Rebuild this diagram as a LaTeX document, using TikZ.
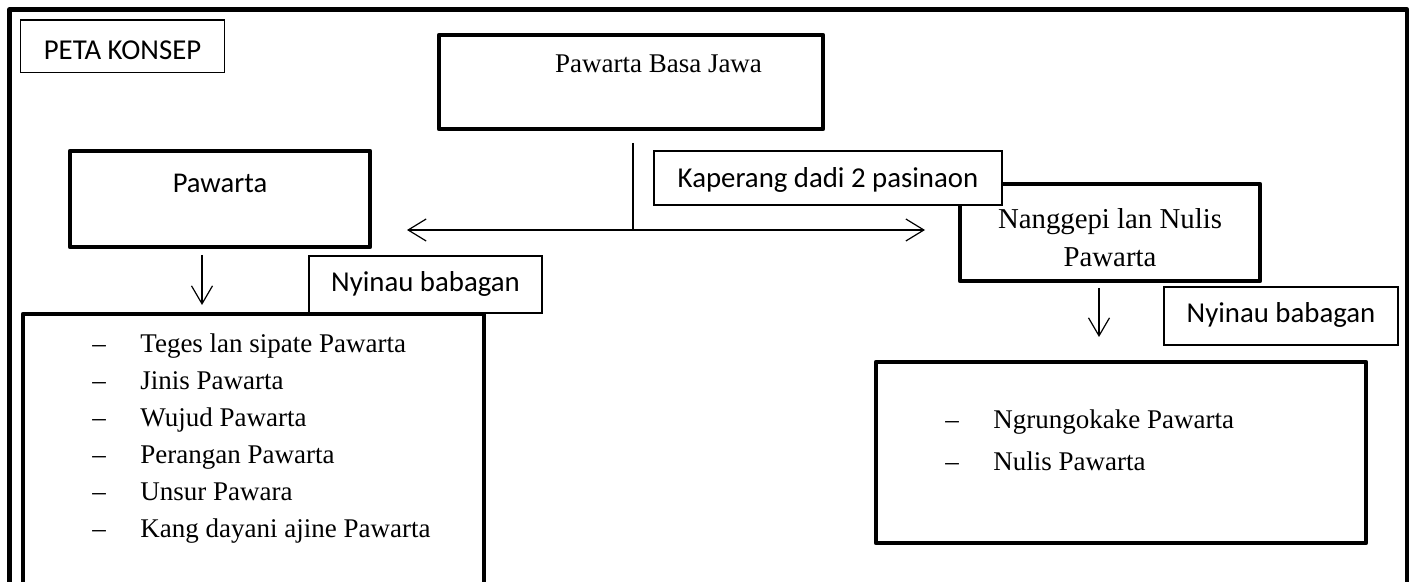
\documentclass[tikz,border=0pt]{standalone}
\usepackage{fontspec}
\setmainfont{Liberation Serif}
\newfontfamily\calibri{Carlito}
\usepackage{tikz}
\usetikzlibrary{positioning,arrows.meta,calc}

\begin{document}
\begin{tikzpicture}[x=0.5pt,y=-0.5pt]
\tikzset{heavybox/.style={draw,line width=2.25pt,line join=round,inner sep=0pt,outer sep=0pt},
lightbox/.style={draw,line width=0.6pt,fill=white,inner sep=0pt,outer sep=0pt,font=\calibri\fontsize{14.4}{17}\selectfont,text height=10pt,text depth=3pt},
arr/.style={line width=0.6pt,-{Straight Barb[length=9pt,width=10.5pt]}},
biarr/.style={line width=0.6pt,{Straight Barb[length=9pt,width=11pt]}-{Straight Barb[length=9pt,width=11pt]}}}
\useasboundingbox (0,0) rectangle (1414,582);
\draw[line width=2.25pt,line join=round] (9.5,600) -- (9.5,9.5) -- (1407,9.5) -- (1407,600);

\node[lightbox,minimum width=101.8pt,minimum height=26.35pt,text height=13.6pt,text depth=0pt] (peta) at (122.5,46.35) {PETA KONSEP};

\node[heavybox,minimum width=192pt,minimum height=47pt,font=\fontsize{13.5}{16}\selectfont,text height=9pt,text depth=18pt] (jawa) at (631,82) {\hspace*{27.5pt}Pawarta Basa Jawa};
\node[heavybox,minimum width=150pt,minimum height=48pt,font=\calibri\fontsize{14.3}{17}\selectfont,text height=9pt,text depth=15pt] (pawarta) at (220,199) {Pawarta};
\node[heavybox,minimum width=150pt,minimum height=48.5pt,align=center,font=\fontsize{14.4}{19}\selectfont] (nanggepi) at (1110,232.5) {\rule{0pt}{15pt}Nanggepi lan Nulis\\Pawarta};

\node[heavybox,anchor=north west,minimum width=230.5pt,minimum height=160pt] (lista) at (23,314) {};
\node[heavybox,minimum width=245pt,minimum height=90.5pt] (listb) at (1121,452.5) {};

%\node (kaperang) at (828,178) {Kaperang};
\node[lightbox,minimum width=174pt,minimum height=27pt,text height=10pt,text depth=0pt] (kaperang) at (828,178) {Kaperang dadi 2 pasinaon};
\node[lightbox,minimum width=116.5pt,minimum height=28.5pt] (nyinaua) at (425.5,284.5) {Nyinau babagan};
\node[lightbox,minimum width=117pt,minimum height=29pt] (nyinaub) at (1281,316) {Nyinau babagan};

\node[anchor=base west,inner sep=0pt,font=\fontsize{13.5}{18.5}\selectfont] (itemsa) at (92,353)
{\begin{tabular}[t]{@{}p{24pt}@{}l@{}}
-- & Teges lan sipate Pawarta\\
-- & Jinis Pawarta\\
-- & Wujud Pawarta\\
-- & Perangan Pawarta\\
-- & Unsur Pawara\\
-- & Kang dayani ajine Pawarta
\end{tabular}};
\node[anchor=base west,inner sep=0pt,font=\fontsize{13.5}{21}\selectfont] (itemsb) at (945,429)
{\begin{tabular}[t]{@{}p{24pt}@{}l@{}}
-- & Ngrungokake Pawarta\\
-- & Nulis Pawarta
\end{tabular}};

\coordinate (split) at (633,230);
\coordinate (tipl) at (407,230);
\coordinate (tipr) at (925,230);
\draw[line width=0.6pt] ($(jawa.south -| split)+(0,14)$) -- (split);
\draw[biarr] (tipl) -- (tipr);
\draw[arr] ($(pawarta.south)+(-18,8)$) -- ++(0,50);
\draw[arr] ($(nanggepi.south)+(-11,7)$) -- ++(0,49);
\end{tikzpicture}
\end{document}
